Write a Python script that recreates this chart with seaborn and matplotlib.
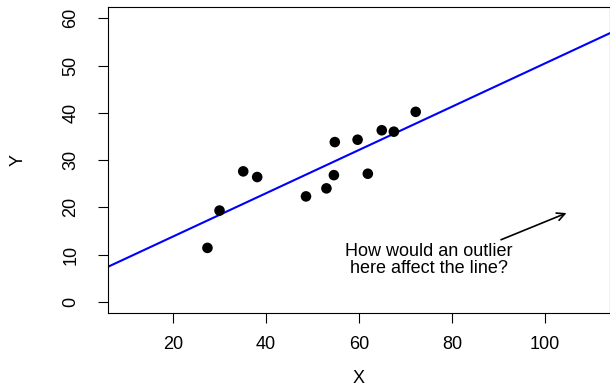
import numpy as np
import pandas as pd
import matplotlib
matplotlib.use("Agg")
import matplotlib.pyplot as plt
import seaborn as sns

# dati
x_vals = [27.4, 30.0, 35.1, 38.1, 48.6, 53.0, 54.8, 54.6, 59.7, 61.9, 64.9, 67.5, 72.2]
y_vals = [11.4, 19.3, 27.6, 26.4, 22.3, 24.0, 33.8, 26.8, 34.3, 27.1, 36.3, 36.0, 40.2]
intercept = 4.65
slope = 0.458
x_ticks = [20, 40, 60, 80, 100]
y_ticks = [0, 10, 20, 30, 40, 50, 60]

df = pd.DataFrame({'X': x_vals, 'Y': y_vals})

sns.set_style("ticks")
plt.rcParams['font.family'] = ['Liberation Sans', 'DejaVu Sans']
plt.rcParams['text.color'] = 'black'
plt.rcParams['axes.labelcolor'] = 'black'
plt.rcParams['xtick.color'] = 'black'
plt.rcParams['ytick.color'] = 'black'

fig = plt.figure(figsize=(6.10, 3.87), dpi=100)
ax = fig.add_axes([0.177, 0.191, 0.823, 0.791])

sns.scatterplot(data=df, x='X', y='Y', color='black', s=58, edgecolor='none', ax=ax, zorder=3)
ax.axline((0, intercept), slope=slope, color='blue', lw=1.5, zorder=2)

ax.annotate('', xy=(105.2, 19.0), xytext=(90.0, 12.9),
            arrowprops=dict(arrowstyle='->', color='black', lw=1.2, mutation_scale=14))
ax.text(75.1, 8.8, 'How would an outlier\nhere affect the line?', ha='center', va='center',
        fontsize=13, linespacing=0.98)

ax.set_xlim(6, 114)
ax.set_ylim(-2.4, 62.4)
ax.set_xticks(x_ticks)
ax.set_yticks(y_ticks)
ax.set_yticklabels([str(v) for v in y_ticks], rotation=90, va='center')
ax.tick_params(axis='both', length=7.5, width=0.8, labelsize=13)
ax.tick_params(axis='x', pad=9)
ax.tick_params(axis='y', pad=13)
ax.set_xlabel('X', fontsize=13, labelpad=12)
ax.set_ylabel('Y', fontsize=13, labelpad=26)
for sp in ax.spines.values():
    sp.set_visible(True)
    sp.set_linewidth(0.8)
    sp.set_color('black')

fig.savefig('out.png', dpi=100)
